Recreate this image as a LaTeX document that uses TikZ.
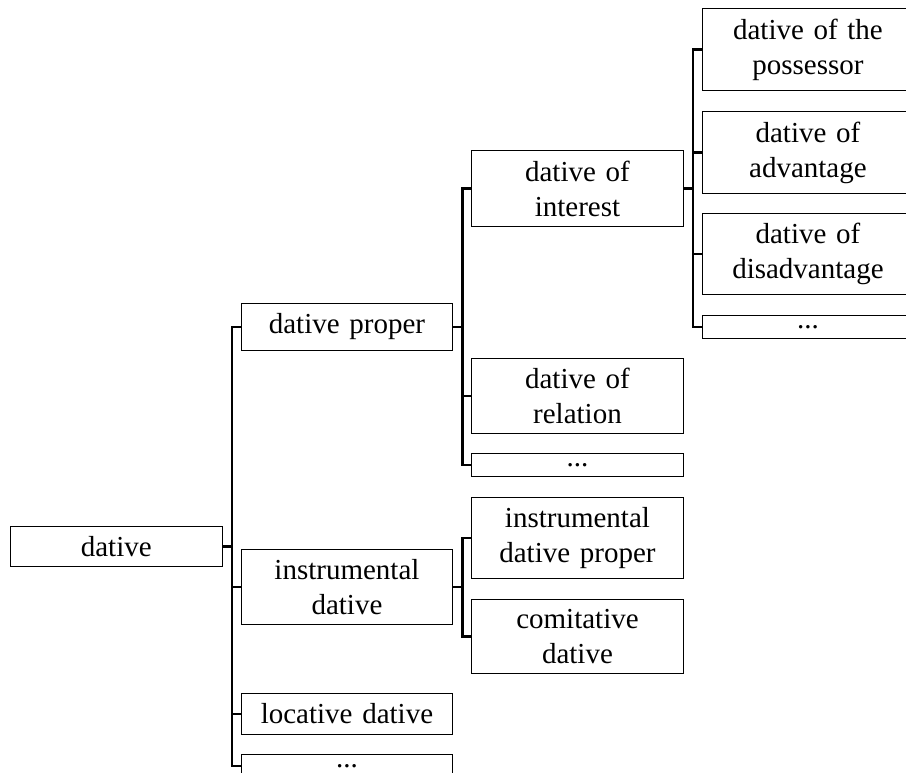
\documentclass[tikz,border=0pt]{standalone}
\usepackage{fontspec}
\setmainfont{Liberation Serif}
\begin{document}
\begin{tikzpicture}[x=1pt,y=-1pt,
  box/.style={draw, line width=1pt, text width=191.5pt, align=center,
    inner xsep=10pt, inner ysep=10pt, anchor=west,
    font=\fontsize{29}{35}\selectfont},
  conn/.style={line width=2.5pt}]
\useasboundingbox (0,0) rectangle (906,773);
\clip (0,0) rectangle (906,773);
% level 0
\node[box] (dat) at (10,546.5) {dative};
% level 1
\node[box] (dprop) at (240.7,327) {dative proper};
\node[box] (instr) at (240.7,587) {instrumental\\dative};
\node[box] (loc) at (240.7,714) {locative dative};
\node[box] (dotsA) at (240.7,766) {...};
% level 2
\node[box] (inter) at (471.2,188.5) {dative of\\interest};
\node[box] (rel) at (471.2,396) {dative of\\relation};
\node[box] (dotsB) at (471.2,465) {...};
\node[box] (iprop) at (471.2,537.8) {instrumental\\dative proper};
\node[box] (comit) at (471.2,636.7) {comitative\\dative};
% level 3
\node[box] (poss) at (701.7,49.7) {dative of the\\possessor};
\node[box] (adv) at (701.7,152.5) {dative of\\advantage};
\node[box] (disadv) at (701.7,254) {dative of\\disadvantage};
\node[box] (dotsC) at (701.7,327) {...};
% connectors
\foreach \c in {dprop,instr,loc,dotsA}
  \draw[conn] (dat.east) -- ++(9.5,0) |- (\c.west);
\foreach \c in {inter,rel,dotsB}
  \draw[conn] (dprop.east) -- ++(9.5,0) |- (\c.west);
\foreach \c in {iprop,comit}
  \draw[conn] (instr.east) -- ++(9.5,0) |- (\c.west);
\foreach \c in {poss,adv,disadv,dotsC}
  \draw[conn] (inter.east) -- ++(9.5,0) |- (\c.west);
\end{tikzpicture}
\end{document}
